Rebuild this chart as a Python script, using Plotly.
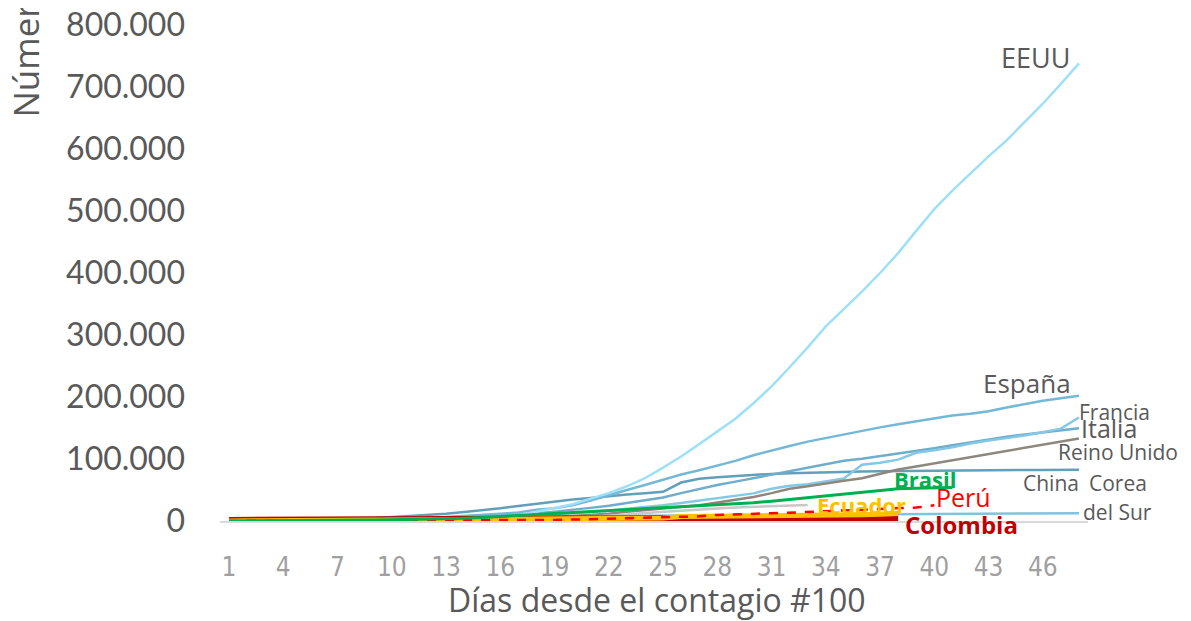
import plotly.graph_objects as go

dias = list(range(1, 49))

eeuu = [100, 124, 158, 221, 319, 435, 541, 704, 994, 1301,
        1630, 2183, 2770, 3613, 4596, 6344, 9197, 15000, 21000, 27000,
        36000, 45000, 56000, 69000, 86000, 104000, 124000, 144000, 165000, 190000,
        217000, 248000, 280000, 314000, 342000, 370000, 400000, 432000, 468000, 503000,
        533000, 561000, 588000, 614000, 643000, 673000, 705000, 738000]
espana = [120, 165, 222, 259, 400, 500, 673, 1073, 1695, 2277,
          3146, 5232, 6391, 7798, 9942, 11748, 13910, 17963, 20410, 25374,
          33000, 42000, 50000, 58000, 67000, 75000, 82000, 89000, 97000, 106000,
          114000, 121000, 128000, 134000, 140000, 145000, 151000, 156000, 161000, 166000,
          170000, 173000, 177000, 183000, 189000, 194000, 198000, 202000]
italia = [155, 229, 322, 453, 655, 888, 1128, 1694, 2036, 2502,
          3089, 3858, 4636, 5883, 7375, 9172, 10149, 12462, 15113, 17660,
          21157, 24747, 29000, 33000, 38000, 45000, 52000, 58000, 63500, 69000,
          74500, 80000, 86000, 92000, 97000, 100500, 104500, 108500, 113000, 117500,
          122000, 127000, 132000, 136000, 139500, 143000, 146500, 149500]
francia = [130, 191, 204, 285, 377, 653, 949, 1126, 1209, 1784,
           2281, 2876, 3661, 4499, 5423, 6633, 7652, 9043, 10871, 12612,
           14459, 16689, 19856, 22304, 25233, 29155, 32964, 37575, 40174, 44550,
           52128, 56989, 59105, 64338, 68605, 90848, 93790, 98963, 110065, 113959,
           118781, 124869, 130000, 133670, 137877, 143303, 149000, 167000]
reino_unido = [116, 164, 207, 274, 322, 384, 459, 590, 801, 1143,
               1372, 1551, 1960, 2642, 3269, 4014, 5067, 5745, 6726, 8164,
               9640, 11812, 14745, 17312, 19780, 22453, 25481, 29865, 34173, 38689,
               45000, 52000, 56000, 61000, 65000, 69000, 76000, 83000, 88000, 93000,
               98000, 103000, 108000, 113000, 118000, 123000, 128000, 133000]
china = [198, 291, 440, 571, 830, 1287, 1975, 2744, 4515, 5974,
         7711, 9692, 11791, 14380, 17205, 20438, 24324, 28018, 31161, 34546,
         37198, 40171, 42638, 44653, 47000, 62000, 68000, 70500, 72500, 74500,
         76000, 77000, 78000, 78800, 79300, 79800, 80200, 80600, 80900, 81200,
         81500, 81700, 81900, 82100, 82300, 82400, 82500, 82700]
corea = [104, 204, 433, 602, 833, 977, 1261, 1766, 2337, 3150,
         3736, 4335, 5186, 5621, 6088, 6593, 7041, 7314, 7478, 7600,
         7900, 8100, 8300, 8500, 8700, 8900, 9100, 9300, 9500, 9700,
         9900, 10100, 10300, 10500, 10700, 10900, 11100, 11300, 11500, 11650,
         11800, 11950, 12100, 12200, 12300, 12400, 12500, 12600]
otro = [None] * 13 + [1500, 2000, 2600, 3200, 3900, 4700, 5600, 6800, 8300, 10500,
                      13000, 15000, 17000, 18800, 20300, 21700, 22800, 23800, 24800, 25800]
brasil = [121, 200, 234, 346, 529, 640, 970, 1178, 1546, 1924,
          2300, 2900, 3600, 4500, 5500, 6800, 8500, 10500, 12000, 13500,
          15000, 16500, 18000, 19500, 21000, 23000, 25000, 26500, 28000, 29500,
          32000, 35000, 37500, 40000, 43000, 46000, 49000, 52000, 53000, 53500, 54000]
peru = [117, 145, 234, 234, 318, 363, 395, 416, 480, 580,
        635, 671, 852, 950, 1065, 1323, 1414, 1595, 1746, 2281,
        2561, 2954, 4342, 5256, 5897, 6848, 7519, 9784, 10303, 11475,
        12491, 13489, 14420, 15628, 16325, 17837, 19250, 20914, 21648, 25331]
ecuador = [111, 168, 199, 260, 367, 506, 789, 981, 1082, 1173,
           1403, 1595, 1823, 1924, 1962, 2240, 2748, 3163, 3368, 3465,
           3646, 3747, 3995, 4450, 4965, 7161, 7257, 7466, 7529, 7603,
           7858, 8225, 8450, 9022, 9468, 10128, 10850, 12000]
colombia = [102, 128, 145, 196, 231, 277, 378, 470, 491, 539,
            608, 702, 798, 906, 1065, 1161, 1267, 1406, 1485, 1579,
            1780, 2054, 2223, 2473, 2709, 2776, 2852, 2979, 3105, 3233,
            3439, 3621, 3792, 3977, 4149, 4356, 4561, 4881]

tick_dias = list(range(1, 47, 3))
y_ticks = [0, 100000, 200000, 300000, 400000, 500000, 600000, 700000, 800000]

series = [
    ("Corea del Sur", corea, "#7EC3E0", 2.5, "solid"),
    ("China", china, "#639FB9", 2.5, "solid"),
    ("Italia", italia, "#6EADCB", 2.5, "solid"),
    ("Francia", francia, "#85C8E6", 2.5, "solid"),
    ("España", espana, "#74B8D8", 2.5, "solid"),
    ("Reino Unido", reino_unido, "#8E877E", 2.5, "solid"),
    ("EEUU", eeuu, "#9EE0F9", 2.5, "solid"),
    ("Otro", otro, "#C8C8C8", 2.5, "solid"),
    ("Colombia", colombia, "#C00000", 8, "solid"),
    ("Ecuador", ecuador, "#FFC000", 5, "solid"),
    ("Perú", peru, "#FF0000", 2.5, "dash"),
    ("Brasil", brasil, "#00B050", 3, "solid"),
]

fig = go.Figure()
for name, vals, color, width, dash in series:
    fig.add_trace(go.Scatter(x=dias[:len(vals)], y=vals, mode="lines", name=name,
                             line=dict(color=color, width=width, dash=dash),
                             showlegend=False))

# page body has an 8px margin, so the figure is offset by 8px
OFF = 8
W, H = 1183, 613
L, R, T, B = 220 - OFF, 1088 - OFF, 25 - OFF, 521 - OFF


def px(x):
    return (x - OFF - L) / (R - L)


def py(y):
    return (B - (y - OFF)) / (B - T)


labels = [
    ("EEUU", 1072, 57, "right", "#595959", 27, False),
    ("España", 1073, 383, "right", "#595959", 26, False),
    ("Francia", 1077, 412, "left", "#595959", 21, False),
    ("Italia", 1079, 428, "left", "#595959", 25, False),
    ("Reino Unido", 1056, 452, "left", "#595959", 21, False),
    ("China", 1021, 483, "left", "#595959", 21, False),
    ("Corea", 1087, 483, "left", "#595959", 21, False),
    ("del Sur", 1081, 512, "left", "#595959", 21, False),
    ("Brasil", 892, 479, "left", "#00B050", 22, True),
    ("Perú", 934, 497, "left", "#FF0000", 25, False),
    ("Ecuador", 815, 505, "left", "#FFC000", 22, True),
    ("Colombia", 903, 524, "left", "#C00000", 24, True),
]
for text, x, y, anchor, color, size, bold in labels:
    fig.add_annotation(xref="paper", yref="paper", x=px(x), y=py(y),
                       text=f"<b>{text}</b>" if bold else text, showarrow=False,
                       xanchor=anchor, yanchor="middle",
                       font=dict(family="Open Sans", size=size, color=color))

fig.add_annotation(xref="paper", yref="paper", x=px(25), y=py(120),
                   text="Número de casos confirmados", showarrow=False, textangle=-90,
                   xanchor="center", yanchor="bottom",
                   font=dict(family="Open Sans", size=35, color="#595959"))
fig.add_annotation(xref="paper", yref="paper", x=px(657), y=py(599),
                   text="Días desde el contagio #100", showarrow=False,
                   xanchor="center", yanchor="middle",
                   font=dict(family="Open Sans", size=32, color="#595959"))

fig.update_layout(
    width=W, height=H,
    margin=dict(l=L, r=W - R, t=T, b=H - B),
    paper_bgcolor="white", plot_bgcolor="white",
    separators=",.",
    xaxis=dict(range=[0.5, 48.5], tickmode="array", tickvals=tick_dias,
               automargin=False,
               showgrid=False, zeroline=False, showline=True, linecolor="#D9D9D9",
               linewidth=1.5, ticks="", ticklabelstandoff=22,
               tickfont=dict(family="DejaVu Sans Condensed, Roboto", size=26,
                             color="#A0A0A0")),
    yaxis=dict(range=[0, 800000], tickmode="array", tickvals=y_ticks,
               automargin=False,
               tickformat=",.0f", showgrid=False, zeroline=False, showline=False,
               ticks="", ticklabelstandoff=34, ticklabeloverflow="allow",
               tickfont=dict(family="Lato", size=32, color="#595959")),
)

fig.write_html("out.html")
